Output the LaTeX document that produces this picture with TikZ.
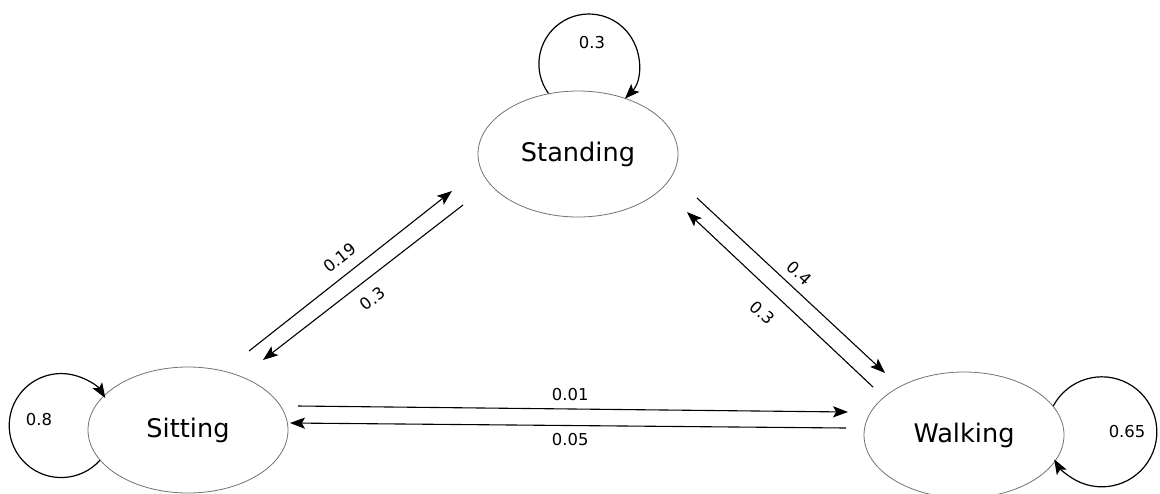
\documentclass[tikz,border=0pt]{standalone}
\usepackage{fontspec}
\setmainfont{DejaVu Sans}
\usetikzlibrary{arrows.meta,shapes.geometric,calc}

\begin{document}
\begin{tikzpicture}[x=0.5pt, y=0.5pt,
  activity/.style={ellipse, draw=black!55, line width=0.4pt,
                   minimum width=100pt, minimum height=63pt, inner sep=0pt,
                   font=\fontsize{12.8}{15}\selectfont},
  arr/.style={-{Stealth[length=7.5pt, width=5.6pt, inset=1.6pt]}, line width=0.55pt},
  selfarc/.style={arr, line width=0.6pt},
  lbl/.style={font=\fontsize{8.2}{10}\selectfont, inner sep=1pt}
]
  \fill[white] (0,0) rectangle (1160,-493);
  \useasboundingbox (0,0) rectangle (1160,-493);

  \node[activity] (stand) at (578,-154) {Standing};
  \node[activity] (sit) at (188,-430) {Sitting};
  \node[activity] (walk) at (964,-435) {Walking};

  % self transitions
  \draw[selfarc] (stand.116) arc[start angle=216, end angle=-44, radius=50];
  \draw[selfarc] (sit.199) arc[start angle=-42, end angle=-328, radius=52];
  \draw[selfarc] (walk.18) arc[start angle=152, end angle=-150, radius=55];
  \node[lbl] (pstand) at ($(stand)+(14,111)$) {0.3};
  \node[lbl] (psit) at ($(sit)+(-149,10)$) {0.8};
  \node[lbl] (pwalk) at ($(walk)+(163,3)$) {0.65};

  % transitions between states
  \draw[arr] ($(sit)+(61,79)$) -- node[lbl, pos=0.5, sloped, above=4pt] {0.19} ($(stand)+(-126,-37)$);
  \draw[arr] ($(stand)+(-115,-51)$) -- node[lbl, pos=0.51, sloped, below=5pt] {0.3} ($(sit)+(75,70)$);
  \draw[arr] ($(stand)+(119,-44)$) -- node[lbl, pos=0.49, sloped, above=3pt] {0.4} ($(walk)+(-79,62)$);
  \draw[arr] ($(walk)+(-91,48)$) -- node[lbl, pos=0.515, sloped, below=6.5pt] {0.3} ($(stand)+(109,-58)$);
  \draw[arr] ($(sit)+(110,24)$) -- node[lbl, pos=0.495, above=3pt] {0.01} ($(walk)+(-116,23)$);
  \draw[arr] ($(walk)+(-118,7)$) -- node[lbl, pos=0.496, below=2.5pt] {0.05} ($(sit)+(102,7)$);

\end{tikzpicture}
\end{document}
